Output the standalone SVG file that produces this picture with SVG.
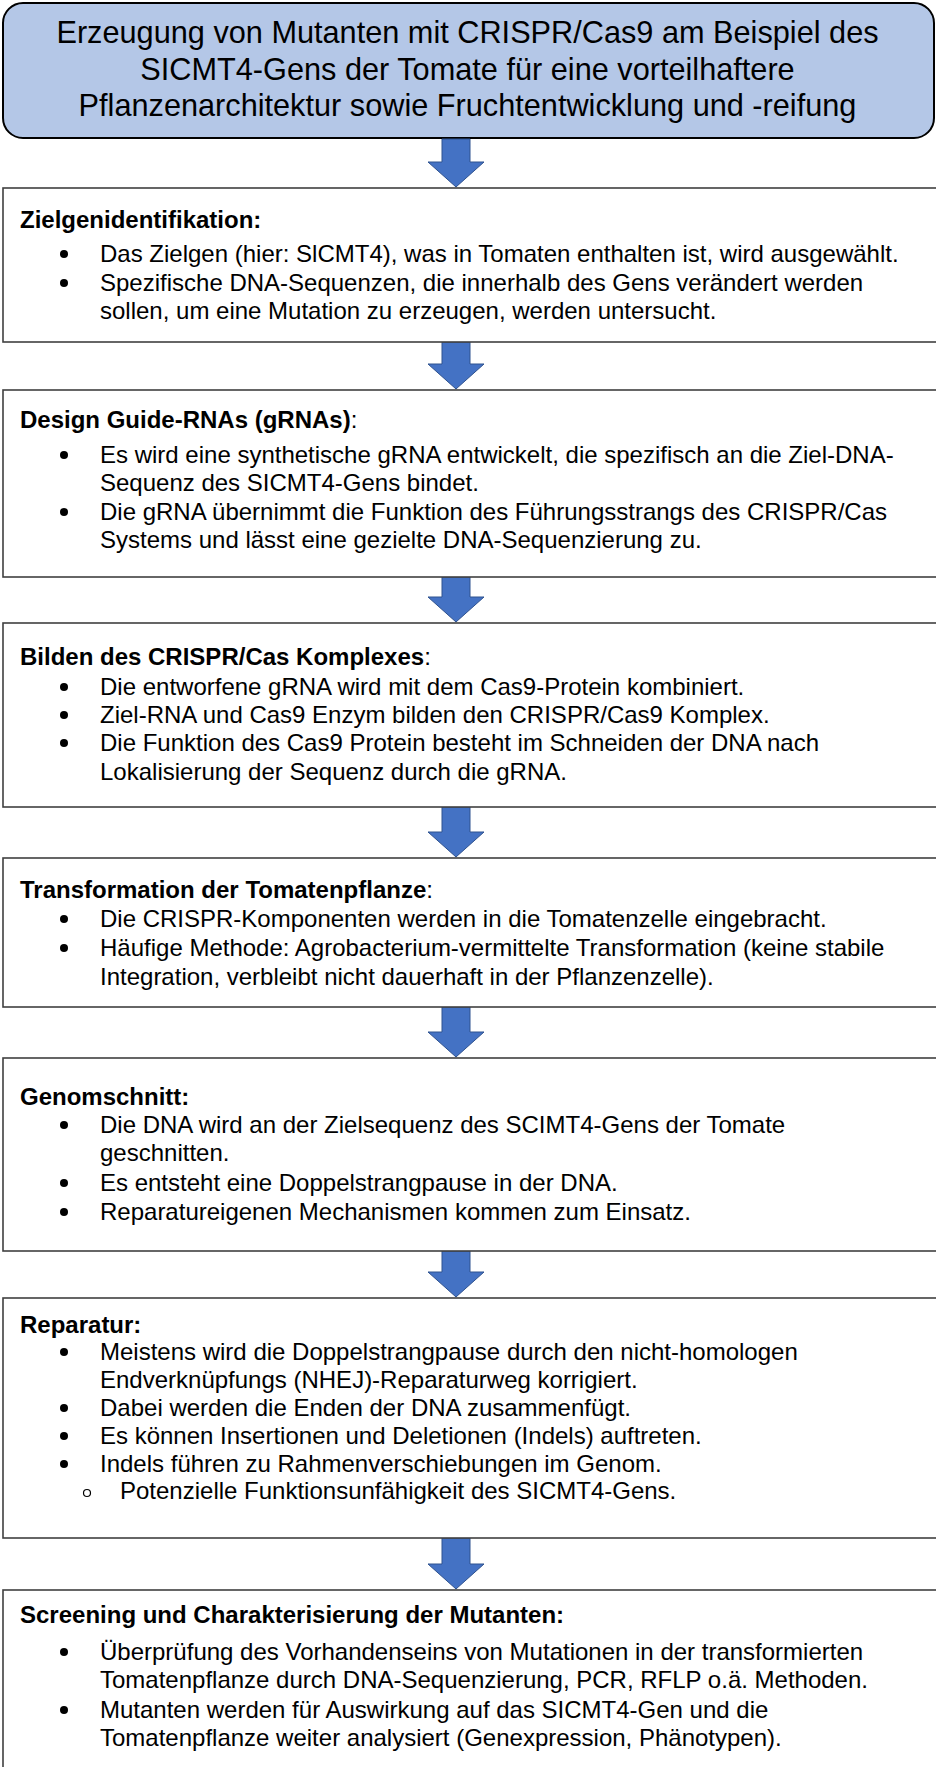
<svg xmlns="http://www.w3.org/2000/svg" width="936" height="1767" viewBox="0 0 936 1767">
<defs>
<style>
text{font-family:"Liberation Sans",Arial,sans-serif;fill:#000}
.t{font-size:30.7px;text-anchor:middle}
.b{font-size:24px}
.h{font-size:24px;font-weight:bold}
.n{font-weight:normal}
.box{fill:#fff;stroke:#404040;stroke-width:1.6}
.title{fill:#B4C7E7;stroke:#000;stroke-width:2}
.arr{fill:#4472C4;stroke:#2F528F;stroke-width:1}
.dot{fill:#000}
.sub{fill:none;stroke:#000;stroke-width:1.2}
</style>
</defs>
<rect width="936" height="1767" fill="#fff"/>

<g id="title">
<rect class="title" x="3" y="3" width="931" height="135" rx="20"/>
<text class="t" x="467.5" y="43">Erzeugung von Mutanten mit CRISPR/Cas9 am Beispiel des</text>
<text class="t" x="467.5" y="80">SICMT4-Gens der Tomate für eine vorteilhaftere</text>
<text class="t" x="467.5" y="116">Pflanzenarchitektur sowie Fruchtentwicklung und -reifung</text>
</g>

<g id="connectors">
<polygon class="arr" points="442,139 470,139 470,162 484,162 456,187 428,162 442,162"/>
<polygon class="arr" points="442,342 470,342 470,364 484,364 456,389 428,364 442,364"/>
<polygon class="arr" points="442,577 470,577 470,597 484,597 456,622 428,597 442,597"/>
<polygon class="arr" points="442,807 470,807 470,832 484,832 456,857 428,832 442,832"/>
<polygon class="arr" points="442,1007 470,1007 470,1032 484,1032 456,1057 428,1032 442,1032"/>
<polygon class="arr" points="442,1251 470,1251 470,1272 484,1272 456,1297 428,1272 442,1272"/>
<polygon class="arr" points="442,1538 470,1538 470,1564 484,1564 456,1589 428,1564 442,1564"/>
</g>

<g id="box1">
<rect class="box" x="3" y="188" width="945" height="154"/>
<text class="h" x="20" y="228">Zielgenidentifikation:</text>
<circle class="dot" cx="64" cy="254" r="4"/>
<text class="b" x="100" y="262">Das Zielgen (hier: SlCMT4), was in Tomaten enthalten ist, wird ausgewählt.</text>
<circle class="dot" cx="64" cy="283" r="4"/>
<text class="b" x="100" y="291">Spezifische DNA-Sequenzen, die innerhalb des Gens verändert werden</text>
<text class="b" x="100" y="319">sollen, um eine Mutation zu erzeugen, werden untersucht.</text>
</g>

<g id="box2">
<rect class="box" x="3" y="390" width="945" height="187"/>
<text class="h" x="20" y="428">Design Guide-RNAs (gRNAs)<tspan class="n">:</tspan></text>
<circle class="dot" cx="64" cy="455" r="4"/>
<text class="b" x="100" y="463">Es wird eine synthetische gRNA entwickelt, die spezifisch an die Ziel-DNA-</text>
<text class="b" x="100" y="491">Sequenz des SICMT4-Gens bindet.</text>
<circle class="dot" cx="64" cy="512" r="4"/>
<text class="b" x="100" y="520">Die gRNA übernimmt die Funktion des Führungsstrangs des CRISPR/Cas</text>
<text class="b" x="100" y="548">Systems und lässt eine gezielte DNA-Sequenzierung zu.</text>
</g>

<g id="box3">
<rect class="box" x="3" y="623" width="945" height="184"/>
<text class="h" x="20" y="665">Bilden des CRISPR/Cas Komplexes<tspan class="n">:</tspan></text>
<circle class="dot" cx="64" cy="687" r="4"/>
<text class="b" x="100" y="695">Die entworfene gRNA wird mit dem Cas9-Protein kombiniert.</text>
<circle class="dot" cx="64" cy="715" r="4"/>
<text class="b" x="100" y="723">Ziel-RNA und Cas9 Enzym bilden den CRISPR/Cas9 Komplex.</text>
<circle class="dot" cx="64" cy="743" r="4"/>
<text class="b" x="100" y="751">Die Funktion des Cas9 Protein besteht im Schneiden der DNA nach</text>
<text class="b" x="100" y="780">Lokalisierung der Sequenz durch die gRNA.</text>
</g>

<g id="box4">
<rect class="box" x="3" y="858" width="945" height="149"/>
<text class="h" x="20" y="898">Transformation der Tomatenpflanze<tspan class="n">:</tspan></text>
<circle class="dot" cx="64" cy="919" r="4"/>
<text class="b" x="100" y="927">Die CRISPR-Komponenten werden in die Tomatenzelle eingebracht.</text>
<circle class="dot" cx="64" cy="948" r="4"/>
<text class="b" x="100" y="956">Häufige Methode: Agrobacterium-vermittelte Transformation (keine stabile</text>
<text class="b" x="100" y="985">Integration, verbleibt nicht dauerhaft in der Pflanzenzelle).</text>
</g>

<g id="box5">
<rect class="box" x="3" y="1058" width="945" height="193"/>
<text class="h" x="20" y="1105">Genomschnitt:</text>
<circle class="dot" cx="64" cy="1125" r="4"/>
<text class="b" x="100" y="1133">Die DNA wird an der Zielsequenz des SCIMT4-Gens der Tomate</text>
<text class="b" x="100" y="1161">geschnitten.</text>
<circle class="dot" cx="64" cy="1183" r="4"/>
<text class="b" x="100" y="1191">Es entsteht eine Doppelstrangpause in der DNA.</text>
<circle class="dot" cx="64" cy="1212" r="4"/>
<text class="b" x="100" y="1220">Reparatureigenen Mechanismen kommen zum Einsatz.</text>
</g>

<g id="box6">
<rect class="box" x="3" y="1298" width="945" height="240"/>
<text class="h" x="20" y="1333">Reparatur:</text>
<circle class="dot" cx="64" cy="1352" r="4"/>
<text class="b" x="100" y="1360">Meistens wird die Doppelstrangpause durch den nicht-homologen</text>
<text class="b" x="100" y="1388">Endverknüpfungs (NHEJ)-Reparaturweg korrigiert.</text>
<circle class="dot" cx="64" cy="1408" r="4"/>
<text class="b" x="100" y="1416">Dabei werden die Enden der DNA zusammenfügt.</text>
<circle class="dot" cx="64" cy="1436" r="4"/>
<text class="b" x="100" y="1444">Es können Insertionen und Deletionen (Indels) auftreten.</text>
<circle class="dot" cx="64" cy="1464" r="4"/>
<text class="b" x="100" y="1472">Indels führen zu Rahmenverschiebungen im Genom.</text>
<circle class="sub" cx="87" cy="1493" r="3.5"/>
<text class="b" x="120" y="1499">Potenzielle Funktionsunfähigkeit des SICMT4-Gens.</text>
</g>

<g id="box7">
<rect class="box" x="3" y="1590" width="945" height="200"/>
<text class="h" x="20" y="1623">Screening und Charakterisierung der Mutanten:</text>
<circle class="dot" cx="64" cy="1652" r="4"/>
<text class="b" x="100" y="1660">Überprüfung des Vorhandenseins von Mutationen in der transformierten</text>
<text class="b" x="100" y="1688">Tomatenpflanze durch DNA-Sequenzierung, PCR, RFLP o.ä. Methoden.</text>
<circle class="dot" cx="64" cy="1710" r="4"/>
<text class="b" x="100" y="1718">Mutanten werden für Auswirkung auf das SICMT4-Gen und die</text>
<text class="b" x="100" y="1746">Tomatenpflanze weiter analysiert (Genexpression, Phänotypen).</text>
</g>
</svg>
